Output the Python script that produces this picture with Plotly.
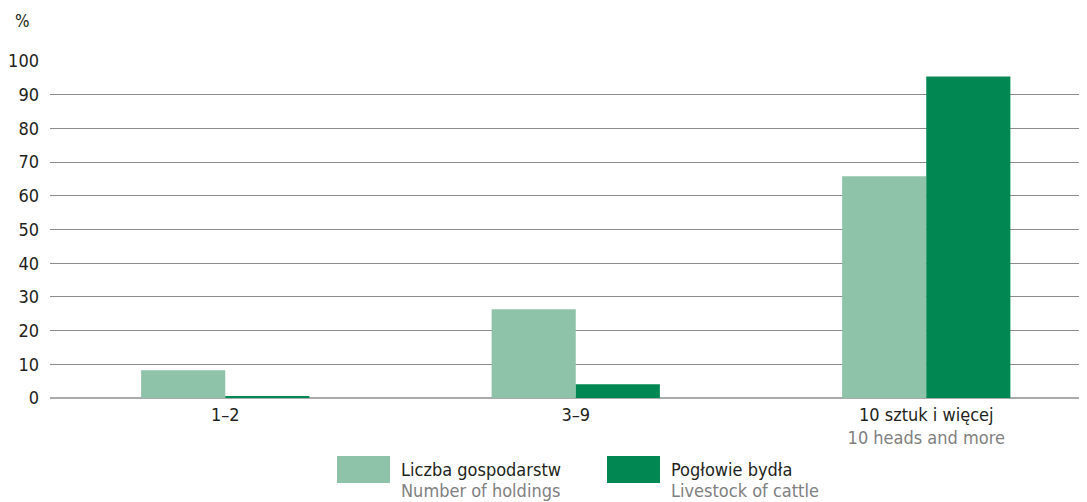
import plotly.graph_objects as go

categories = ["1–2", "3–9", "10 sztuk i więcej"]
category_labels = [
    "1–2",
    "3–9",
    "10 sztuk i więcej<br><span style='color:#808080'>10 heads and more</span>",
]
holdings = [8.2, 26.3, 65.8]
cattle = [0.5, 4.1, 95.4]
series_pl = ["Liczba gospodarstw", "Pogłowie bydła"]
series_en = ["Number of holdings", "Livestock of cattle"]
colors = ["#8ec3aa", "#008752"]
y_ticks = [0, 10, 20, 30, 40, 50, 60, 70, 80, 90, 100]

FONT = "DejaVu Sans Condensed, Liberation Sans Narrow, sans-serif"
OFF = 8  # page body margin of the html page
W, H = 1087 - OFF, 502 - OFF
# plot area in reference pixel coordinates
PX0, PX1, PY0, PY1 = 50, 1087, 61, 398
L, R, T, B = PX0 - OFF, 1087 - PX1, PY0 - OFF, 502 - PY1
PW = PX1 - PX0
PH = PY1 - PY0
cat_step = 350.5

fig = go.Figure()
for vals, col, name in zip([holdings, cattle], colors, series_pl):
    fig.add_trace(go.Bar(x=categories, y=vals, name=name, marker=dict(color=col, line=dict(width=0)),
                         showlegend=False))

fig.update_layout(
    width=W, height=H,
    margin=dict(l=L, r=R, t=T, b=B, pad=0),
    paper_bgcolor="white", plot_bgcolor="white",
    barmode="group", bargap=0.52, bargroupgap=0,
    font=dict(family=FONT, size=18, color="#231f20"),
    xaxis=dict(
        range=[-0.5, -0.5 + PW / cat_step],
        tickmode="array", tickvals=categories, ticktext=category_labels,
        showgrid=False, showline=False, zeroline=False, ticks="",
        ticklabelstandoff=4,
        tickfont=dict(size=18, color="#231f20"),
    ),
    yaxis=dict(
        range=[0, 100], tickmode="array", tickvals=y_ticks,
        showgrid=True, gridcolor="#8c8c8c", gridwidth=1.3,
        zeroline=True, zerolinecolor="#ababab", zerolinewidth=2,
        showline=False, ticks="", ticklabelstandoff=10,
        tickfont=dict(size=18, color="#231f20"),
    ),
)

def px_x(px):
    return (px - PX0) / PW

def px_y(py):
    return (PY1 - py) / PH

fig.add_annotation(x=px_x(22), y=px_y(21), xref="paper", yref="paper", text="%",
                   showarrow=False, xanchor="center", yanchor="middle",
                   font=dict(size=17, color="#231f20"))

legend_x = [337, 607]
for lx, col, pl, en in zip(legend_x, colors, series_pl, series_en):
    fig.add_shape(type="rect", xref="paper", yref="paper",
                  x0=px_x(lx), x1=px_x(lx + 53), y0=px_y(483), y1=px_y(456),
                  fillcolor=col, line=dict(width=0))
    fig.add_annotation(x=px_x(lx + 62), y=px_y(469), xref="paper", yref="paper", text=pl,
                       showarrow=False, xanchor="left", yanchor="middle",
                       font=dict(size=18, color="#231f20"))
    fig.add_annotation(x=px_x(lx + 62), y=px_y(491), xref="paper", yref="paper", text=en,
                       showarrow=False, xanchor="left", yanchor="middle",
                       font=dict(size=18, color="#808080"))

fig.write_html("out.html")
